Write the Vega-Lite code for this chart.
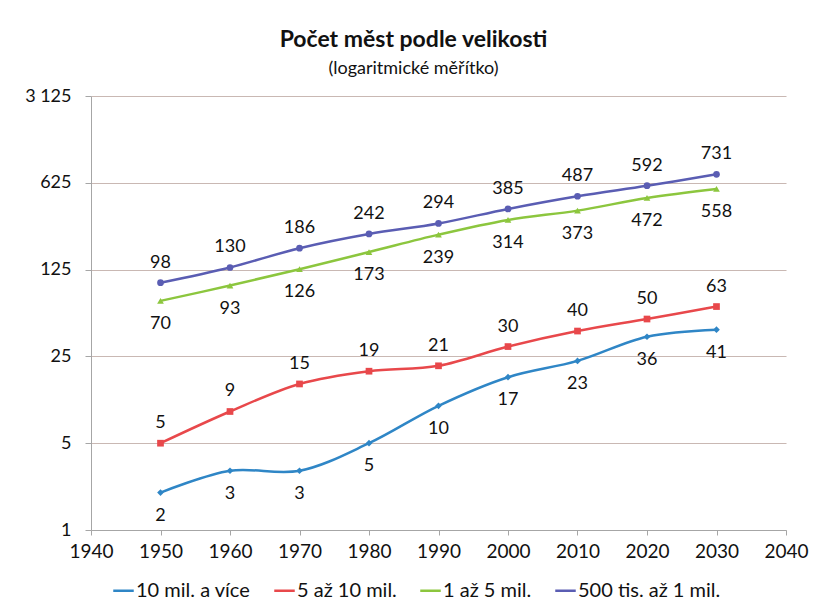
{
  "$schema": "https://vega.github.io/schema/vega-lite/v6.json",
  "autosize": "none",
  "width": 695,
  "height": 434,
  "padding": {"left": 91, "top": 96, "right": 30, "bottom": 82},
  "background": "white",
  "config": {
    "font": "Lato",
    "view": {"stroke": null}
  },
  "title": {
    "text": "Počet měst podle velikosti",
    "subtitle": "(logaritmické měřítko)",
    "anchor": "middle",
    "dx": -25,
    "offset": 9,
    "fontSize": 23,
    "fontWeight": "bold",
    "color": "#111111",
    "subtitleFontSize": 18,
    "subtitleColor": "#111111",
    "subtitlePadding": 8
  },
  "data": {
    "values": [
      {"rok": 1950, "serie": "10 mil. a více", "pocet": 2},
      {"rok": 1960, "serie": "10 mil. a více", "pocet": 3},
      {"rok": 1970, "serie": "10 mil. a více", "pocet": 3},
      {"rok": 1980, "serie": "10 mil. a více", "pocet": 5},
      {"rok": 1990, "serie": "10 mil. a více", "pocet": 10},
      {"rok": 2000, "serie": "10 mil. a více", "pocet": 17},
      {"rok": 2010, "serie": "10 mil. a více", "pocet": 23},
      {"rok": 2020, "serie": "10 mil. a více", "pocet": 36},
      {"rok": 2030, "serie": "10 mil. a více", "pocet": 41},
      {"rok": 1950, "serie": "5 až 10 mil.", "pocet": 5},
      {"rok": 1960, "serie": "5 až 10 mil.", "pocet": 9},
      {"rok": 1970, "serie": "5 až 10 mil.", "pocet": 15},
      {"rok": 1980, "serie": "5 až 10 mil.", "pocet": 19},
      {"rok": 1990, "serie": "5 až 10 mil.", "pocet": 21},
      {"rok": 2000, "serie": "5 až 10 mil.", "pocet": 30},
      {"rok": 2010, "serie": "5 až 10 mil.", "pocet": 40},
      {"rok": 2020, "serie": "5 až 10 mil.", "pocet": 50},
      {"rok": 2030, "serie": "5 až 10 mil.", "pocet": 63},
      {"rok": 1950, "serie": "1 až 5 mil.", "pocet": 70},
      {"rok": 1960, "serie": "1 až 5 mil.", "pocet": 93},
      {"rok": 1970, "serie": "1 až 5 mil.", "pocet": 126},
      {"rok": 1980, "serie": "1 až 5 mil.", "pocet": 173},
      {"rok": 1990, "serie": "1 až 5 mil.", "pocet": 239},
      {"rok": 2000, "serie": "1 až 5 mil.", "pocet": 314},
      {"rok": 2010, "serie": "1 až 5 mil.", "pocet": 373},
      {"rok": 2020, "serie": "1 až 5 mil.", "pocet": 472},
      {"rok": 2030, "serie": "1 až 5 mil.", "pocet": 558},
      {"rok": 1950, "serie": "500 tis. až 1 mil.", "pocet": 98},
      {"rok": 1960, "serie": "500 tis. až 1 mil.", "pocet": 130},
      {"rok": 1970, "serie": "500 tis. až 1 mil.", "pocet": 186},
      {"rok": 1980, "serie": "500 tis. až 1 mil.", "pocet": 242},
      {"rok": 1990, "serie": "500 tis. až 1 mil.", "pocet": 294},
      {"rok": 2000, "serie": "500 tis. až 1 mil.", "pocet": 385},
      {"rok": 2010, "serie": "500 tis. až 1 mil.", "pocet": 487},
      {"rok": 2020, "serie": "500 tis. až 1 mil.", "pocet": 592},
      {"rok": 2030, "serie": "500 tis. až 1 mil.", "pocet": 731}
    ]
  },
  "encoding": {
    "x": {
      "field": "rok", "type": "quantitative",
      "scale": {"domain": [1940, 2040], "nice": false, "zero": false},
      "axis": {
        "title": null,
        "values": [1940, 1950, 1960, 1970, 1980, 1990, 2000, 2010, 2020, 2030, 2040],
        "format": "d",
        "grid": false,
        "domainColor": "#a6a6a6",
        "tickColor": "#a6a6a6",
        "tickSize": 5,
        "labelFontSize": 19,
        "labelColor": "#111111",
        "labelPadding": 7,
        "labelFlush": false
      }
    },
    "y": {
      "field": "pocet", "type": "quantitative",
      "scale": {"type": "log", "base": 5, "domain": [1, 3125], "nice": false},
      "axis": {
        "title": null,
        "values": [1, 5, 25, 125, 625, 3125],
        "labelExpr": "replace(format(datum.value, ',d'), ',', ' ')",
        "grid": true,
        "gridColor": "#c9b8b3",
        "gridWidth": 1.2,
        "domainColor": "#a6a6a6",
        "tickColor": "#a6a6a6",
        "tickSize": 6,
        "labelFontSize": 18,
        "labelColor": "#111111",
        "labelPadding": 14
      }
    },
    "color": {
      "field": "serie", "type": "nominal",
      "sort": ["10 mil. a více", "5 až 10 mil.", "1 až 5 mil.", "500 tis. až 1 mil."],
      "scale": {
        "domain": ["10 mil. a více", "5 až 10 mil.", "1 až 5 mil.", "500 tis. až 1 mil."],
        "range": ["#2f86c6", "#e8484b", "#8cc63e", "#5a5db3"]
      },
      "legend": {
        "title": null,
        "orient": "none",
        "legendX": 21,
        "legendY": 483,
        "direction": "horizontal",
        "symbolType": "M-1,0H1",
        "symbolSize": 420,
        "symbolStrokeWidth": 2.5,
        "labelFontSize": 20,
        "labelColor": "#111111",
        "labelOffset": 1,
        "columnPadding": 18
      }
    }
  },
  "layer": [
    {
      "mark": {"type": "line", "interpolate": "catmull-rom", "strokeWidth": 2.5}
    },
    {
      "transform": [{"filter": "datum.serie == '10 mil. a více'"}],
      "mark": {"type": "point", "shape": "diamond", "filled": true, "opacity": 1, "size": 45}
    },
    {
      "transform": [{"filter": "datum.serie == '5 až 10 mil.'"}],
      "mark": {"type": "point", "shape": "square", "filled": true, "opacity": 1, "size": 45}
    },
    {
      "transform": [{"filter": "datum.serie == '1 až 5 mil.'"}],
      "mark": {"type": "point", "shape": "triangle-up", "filled": true, "opacity": 1, "size": 45}
    },
    {
      "transform": [{"filter": "datum.serie == '500 tis. až 1 mil.'"}],
      "mark": {"type": "point", "shape": "circle", "filled": true, "opacity": 1, "size": 45}
    },
    {
      "transform": [{"filter": "datum.serie == '5 až 10 mil.' || datum.serie == '500 tis. až 1 mil.'"}],
      "mark": {"type": "text", "dy": -20, "fontSize": 18, "color": "#111111", "baseline": "middle"},
      "encoding": {"text": {"field": "pocet", "type": "quantitative"}, "color": {"value": "#111111"}}
    },
    {
      "transform": [{"filter": "datum.serie == '10 mil. a více' || datum.serie == '1 až 5 mil.'"}],
      "mark": {"type": "text", "dy": 23, "fontSize": 18, "color": "#111111", "baseline": "middle"},
      "encoding": {"text": {"field": "pocet", "type": "quantitative"}, "color": {"value": "#111111"}}
    }
  ]
}
